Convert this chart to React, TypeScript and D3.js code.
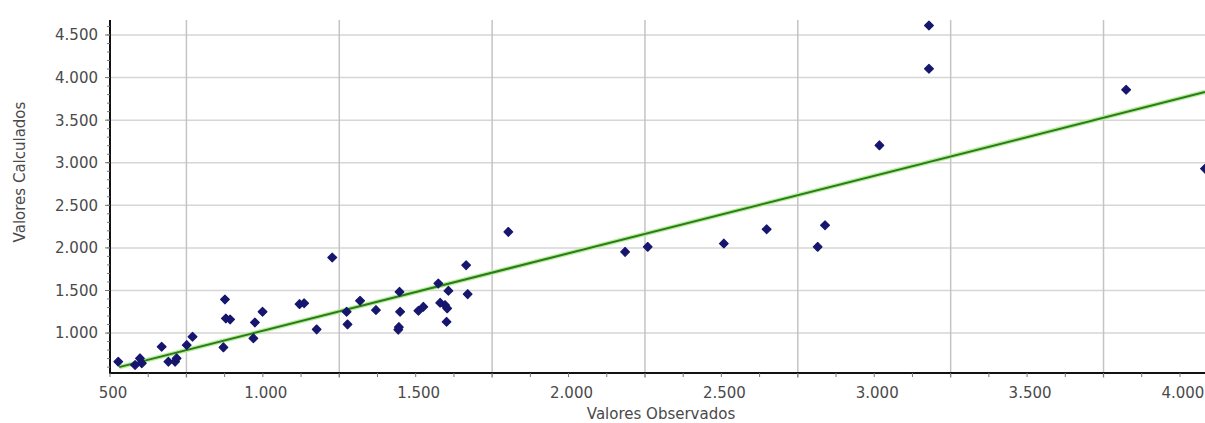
import * as d3 from "d3";
import React from "react";

// valores
const observed = [
  527, 582, 598, 604, 669, 691, 713, 718, 751, 770, 871, 876, 879, 893, 969,
  974, 999, 1120, 1135, 1176, 1227, 1274, 1277, 1318, 1370, 1447, 1449, 1445,
  1443, 1509, 1525, 1574, 1607, 1580, 1596, 1603, 1601, 1665, 1670, 1803,
  2185, 2259, 2508, 2648, 2815, 2839, 3017, 3179, 3179, 3824, 4082,
];
const calculated = [
  664, 625, 703, 645, 839, 664, 664, 703, 859, 957, 832, 1395, 1172, 1160,
  938, 1125, 1250, 1340, 1350, 1043, 1887, 1250, 1102, 1379, 1270, 1484, 1250,
  1070, 1040, 1262, 1308, 1583, 1496, 1355, 1328, 1290, 1132, 1797, 1457,
  2188, 1953, 2012, 2051, 2219, 2012, 2266, 3204, 4611, 4103, 3857, 2930,
];
const trendObserved = [530, 4082];
const trendCalculated = [600, 3830];

const xLabelTicks = [500, 1000, 1500, 2000, 2500, 3000, 3500, 4000];
const xGridTicks = [750, 1250, 1750, 2250, 2750, 3250, 3750];
const yTicks = [1000, 1500, 2000, 2500, 3000, 3500, 4000, 4500];

const width = 1205;
const height = 423;
const left = 110;
const right = 1205;
const top = 20;
const bottom = 373;

const fmt = d3
  .formatLocale({ decimal: ",", thousands: ".", grouping: [3], currency: ["", ""] })
  .format(",d");

const App = () => {
  const x = d3.scaleLinear().domain([500, 4082]).range([left, right]);
  const y = d3.scaleLinear().domain([531, 4676]).range([bottom, top]);

  const minorX = d3.range(500, 4082, 125);
  const minorY = d3.range(600, 4676, 100);

  const line = d3
    .line<number>()
    .x((d, i) => x(trendObserved[i]))
    .y((d) => y(d));

  // losango "quadrado" girado, como os marcadores do original
  const symbol = d3.symbol(d3.symbolSquare, 38)();
  const font = "'DejaVu Sans', Verdana, sans-serif";

  return (
    <svg
      width={width}
      height={height}
      style={{ position: "absolute", left: 0, top: 0, background: "#fff" }}
    >
      {/* grade */}
      {yTicks.map((t) => (
        <line key={"gy" + t} x1={left} x2={right} y1={y(t)} y2={y(t)} stroke="#d6d6d6" strokeWidth={1.5} />
      ))}
      {xGridTicks.map((t) => (
        <line key={"gx" + t} x1={x(t)} x2={x(t)} y1={top} y2={bottom + 5} stroke="#c4c4c4" strokeWidth={1.5} />
      ))}

      {/* linha de tendência */}
      <path d={line(trendCalculated) || ""} fill="none" stroke="#b4ee98" strokeWidth={4.5} />
      <path d={line(trendCalculated) || ""} fill="none" stroke="#2c7a1c" strokeWidth={2} />

      {/* pontos */}
      {observed.map((o, i) => (
        <path
          key={"p" + i}
          d={symbol || ""}
          transform={`translate(${x(o)},${y(calculated[i])}) rotate(45)`}
          fill="#16166e"
          stroke="#16166e"
          strokeWidth={1.2}
          strokeLinejoin="round"
        />
      ))}

      {/* eixos */}
      <line x1={left} x2={left} y1={top} y2={bottom + 1} stroke="#111" strokeWidth={2} />
      <line x1={left - 1} x2={right} y1={bottom} y2={bottom} stroke="#111" strokeWidth={2} />
      {minorX.map((t) => (
        <line key={"mx" + t} x1={x(t)} x2={x(t)} y1={bottom} y2={bottom + 4} stroke="#777" />
      ))}
      {minorY.map((t) => (
        <line key={"my" + t} x1={left - 3} x2={left} y1={y(t)} y2={y(t)} stroke="#777" />
      ))}
      {yTicks.map((t) => (
        <line key={"ty" + t} x1={left - 5} x2={left} y1={y(t)} y2={y(t)} stroke="#777" />
      ))}

      {/* rótulos */}
      {yTicks.map((t) => (
        <text
          key={"ly" + t}
          x={98}
          y={y(t)}
          dy="0.36em"
          textAnchor="end"
          fontFamily={font}
          fontSize={15}
          fill="#4a4a4a"
        >
          {fmt(t)}
        </text>
      ))}
      {xLabelTicks.map((t) => (
        <text
          key={"lx" + t}
          x={x(t) + 3}
          y={398}
          textAnchor="middle"
          fontFamily={font}
          fontSize={15}
          fill="#4a4a4a"
        >
          {fmt(t)}
        </text>
      ))}
      <text
        x={661}
        y={419}
        textAnchor="middle"
        fontFamily={font}
        fontSize={15}
        fill="#4a4a4a"
      >
        Valores Observados
      </text>
      <text
        transform={`translate(25,172) rotate(-90)`}
        textAnchor="middle"
        fontFamily={font}
        fontSize={15}
        fill="#4a4a4a"
      >
        Valores Calculados
      </text>
    </svg>
  );
};

export default App;
